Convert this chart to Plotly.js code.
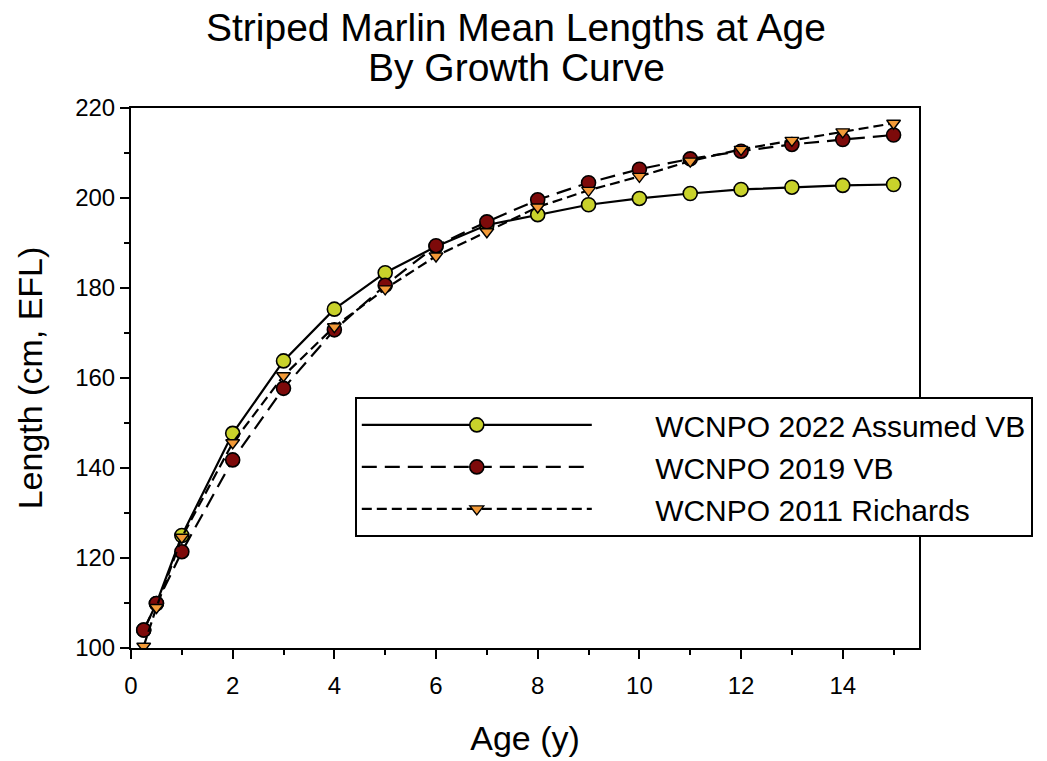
<!DOCTYPE html>
<html>
<head>
<meta charset="utf-8">
<script src="https://cdn.plot.ly/plotly-3.0.1.min.js"></script>
<style>html,body{margin:0;padding:0;background:#fff;}#chart{width:1047px;height:761px;}</style>
</head>
<body>
<div id="chart"></div>
<script>
const ages = [0.25, 0.5, 1, 2, 3, 4, 5, 6, 7, 8, 9, 10, 11, 12, 13, 14, 15];
const len2022AssumedVB = [104.0, 109.9, 125.0, 147.7, 163.8, 175.3, 183.4, 189.2, 194.0, 196.3, 198.5, 199.9, 201.0, 201.9, 202.4, 202.8, 203.0];
const len2019VB = [104.0, 109.9, 121.4, 141.8, 157.7, 170.7, 180.6, 189.4, 194.7, 199.6, 203.4, 206.4, 208.7, 210.4, 211.9, 213.0, 214.0];
const len2011Richards = [100.4, 109.0, 124.6, 145.6, 160.5, 171.4, 179.8, 187.1, 192.5, 198.0, 201.7, 204.8, 208.2, 210.8, 212.8, 214.7, 216.6];
const seriesNames = ['WCNPO 2022 Assumed VB', 'WCNPO 2019 VB', 'WCNPO 2011 Richards'];
const titleLines = ['Striped Marlin Mean Lengths at Age', 'By Growth Curve'];

const FONT = 'Liberation Sans, Arial, sans-serif';
const PAD = '&nbsp;&nbsp;&nbsp;&nbsp;&nbsp;&nbsp;&nbsp;';

const traces = [
  {
    x: ages, y: len2022AssumedVB, name: PAD + seriesNames[0], mode: 'lines+markers',
    line: {color: '#000', width: 2.2},
    marker: {symbol: 'circle', size: 14, color: '#c9d22b', line: {color: '#000', width: 1.6}}
  },
  {
    x: ages, y: len2019VB, name: PAD + seriesNames[1], mode: 'lines+markers',
    line: {color: '#000', width: 2.2, dash: '15px,8px'},
    marker: {symbol: 'circle', size: 14, color: '#7d0a0a', line: {color: '#000', width: 1.6}}
  },
  {
    x: ages, y: len2011Richards, name: PAD + seriesNames[2], mode: 'lines+markers',
    line: {color: '#000', width: 2.2, dash: '10px,5px'},
    marker: {symbol: 'triangle-down', size: 12, color: '#f29a38', line: {color: '#000', width: 1.4}}
  }
];

const layout = {
  width: 1047, height: 761,
  paper_bgcolor: '#fff', plot_bgcolor: '#fff',
  margin: {l: 131, r: 128, t: 108, b: 113},
  font: {family: FONT, color: '#000', size: 24},
  title: {
    text: titleLines[0],
    font: {family: FONT, size: 39, color: '#000'},
    x: 0.4928, xref: 'container', xanchor: 'center',
    y: 1 - 27 / 761, yref: 'container', yanchor: 'middle'
  },
  annotations: [{
    text: titleLines[1], showarrow: false,
    font: {family: FONT, size: 39, color: '#000'},
    xref: 'paper', yref: 'paper',
    x: (516 - 131) / 787.7, y: (648 - 68) / 540,
    xanchor: 'center', yanchor: 'middle'
  }],
  xaxis: {
    range: [0, 15.5], tickmode: 'linear', tick0: 0, dtick: 2,
    showgrid: false, zeroline: false,
    showline: true, linecolor: '#000', linewidth: 2, mirror: true,
    ticks: 'outside', ticklen: 9, tickwidth: 2, tickcolor: '#000',
    ticklabelstandoff: 6,
    minor: {dtick: 1, ticks: 'outside', ticklen: 5, tickwidth: 2, tickcolor: '#000', showgrid: false},
    tickfont: {size: 24, family: FONT},
    title: {text: 'Age (y)', font: {size: 34, family: FONT}, standoff: 28}
  },
  yaxis: {
    range: [100, 220], tickmode: 'linear', tick0: 100, dtick: 20,
    showgrid: false, zeroline: false,
    showline: true, linecolor: '#000', linewidth: 2, mirror: true,
    ticks: 'outside', ticklen: 9, tickwidth: 2, tickcolor: '#000',
    minor: {dtick: 10, ticks: 'outside', ticklen: 5, tickwidth: 2, tickcolor: '#000', showgrid: false},
    tickfont: {size: 24, family: FONT},
    title: {text: 'Length (cm, EFL)', font: {size: 34, family: FONT}, standoff: 22}
  },
  showlegend: true,
  legend: {
    x: 0.284, y: 0.465, xanchor: 'left', yanchor: 'top',
    bgcolor: '#fff', bordercolor: '#000', borderwidth: 2,
    font: {size: 30, family: FONT},
    itemwidth: 230, tracegroupgap: 0
  }
};

Plotly.newPlot('chart', traces, layout, {displayModeBar: false, staticPlot: true});
</script>
</body>
</html>
